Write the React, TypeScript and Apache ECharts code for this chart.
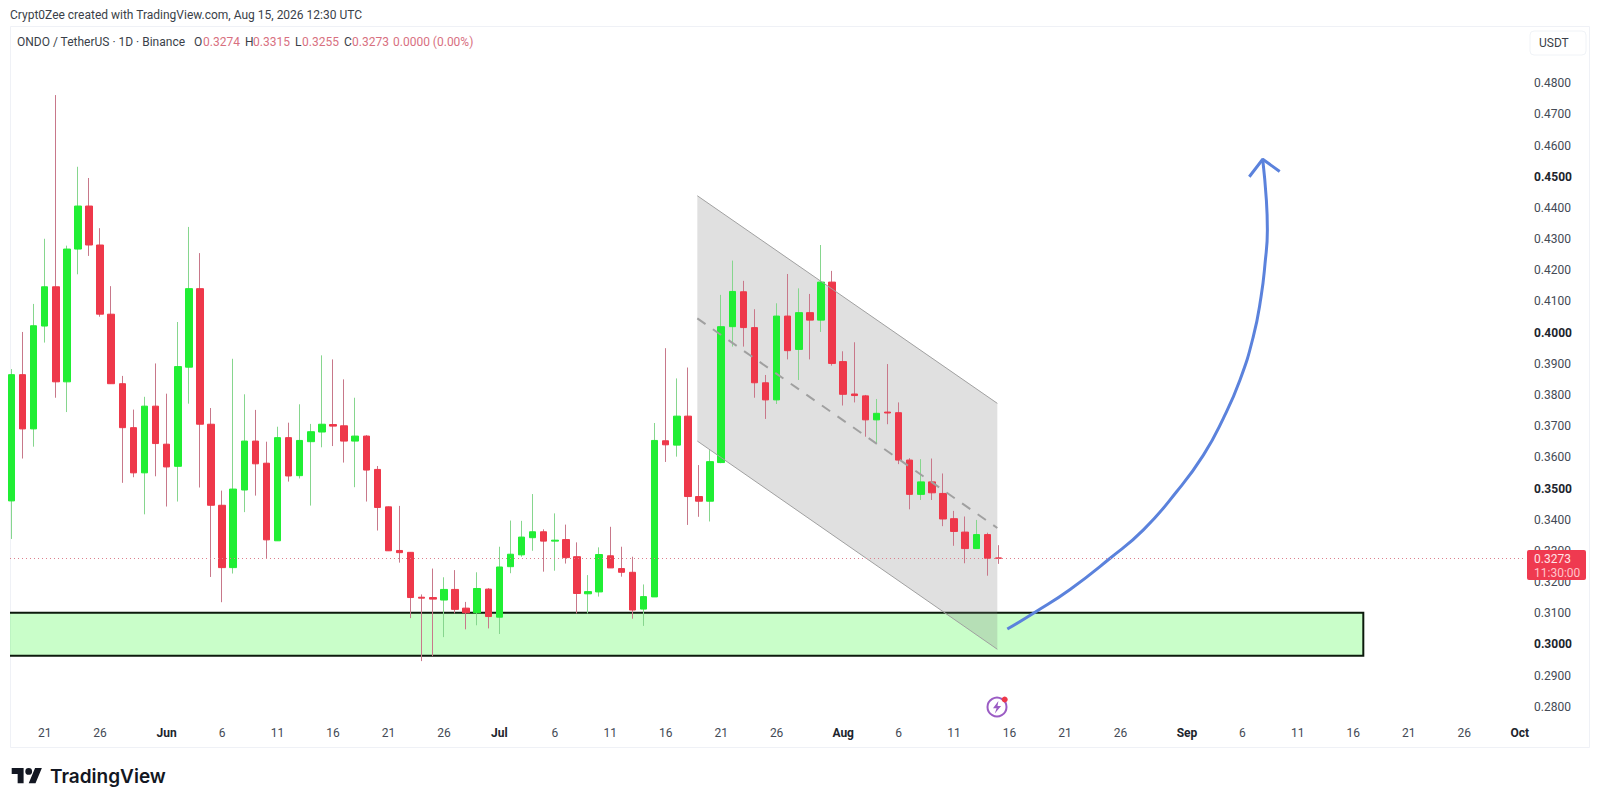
import React, { useEffect, useRef } from "react";
import * as echarts from "echarts";

// Daily candles, day 0 = May 18
const opens = [
  .3457,.3862,.3688,.4018,.4144,.3839,.4265,.4403,.4278,.4056,
  .3833,.3692,.3547,.3761,.3639,.3568,.3886,.4138,.3703,.3443,
  .3243,.3492,.3649,.3578,.3329,.3660,.3538,.3647,.3678,.3702,
  .3698,.3649,.3665,.3558,.3438,.3298,.3292,.3148,.3147,.3139,
  .3173,.3113,.3098,.3174,.3084,.3246,.3284,.3339,.3358,.3328,
  .3333,.3278,.3159,.3165,.3281,.3240,.3228,.3110,.3149,.3650,
  .3636,.3729,.3471,.3456,.3580,.4016,.4128,.4013,.3836,.3781,
  .4050,.3943,.4061,.4037,.4159,.3904,.3800,.3794,.3717,.3742,
  .3740,.3588,.3478,.3518,.3481,.3400,.3357,.3304,.3349,.3274,
];
const closes = [
  .3862,.3688,.4019,.4144,.3839,.4265,.4403,.4278,.4056,.3833,
  .3692,.3547,.3761,.3641,.3566,.3888,.4138,.3703,.3443,.3243,
  .3495,.3649,.3576,.3332,.3660,.3537,.3651,.3679,.3703,.3697,
  .3649,.3665,.3556,.3436,.3297,.3291,.3147,.3145,.3142,.3173,
  .3109,.3098,.3176,.3086,.3245,.3286,.3341,.3358,.3328,.3331,
  .3275,.3160,.3166,.3285,.3242,.3228,.3107,.3150,.3651,.3637,
  .3729,.3471,.3456,.3583,.4016,.4129,.4013,.3836,.3781,.4050,
  .3939,.4061,.4037,.4159,.3898,.3799,.3795,.3717,.3738,.3739,
  .3588,.3478,.3518,.3483,.3399,.3359,.3304,.3349,.3273,.3273,
];
const lows = [
  .3335,.3593,.3631,.3965,.3788,.3742,.4184,.4243,.4048,.3833,
  .3515,.3533,.3414,.3536,.3439,.3455,.3769,.3500,.3213,.3132,
  .3224,.3421,.3474,.3273,.3329,.3519,.3529,.3442,.3629,.3633,
  .3580,.3501,.3455,.3362,.3297,.3259,.3081,.2943,.2959,.3020,
  .3096,.3045,.3058,.3048,.3030,.3225,.3278,.3297,.3230,.3233,
  .3256,.3096,.3096,.3150,.3242,.3214,.3079,.3056,.3149,.3582,
  .3599,.3380,.3406,.3391,.3578,.3952,.3952,.3788,.3720,.3768,
  .3911,.3845,.3911,.3999,.3891,.3763,.3773,.3663,.3642,.3703,
  .3575,.3430,.3460,.3460,.3376,.3313,.3257,.3304,.3217,.3255,
];
const highs = [
  .3880,.3999,.4089,.4298,.4759,.4276,.4529,.4493,.4332,.4146,
  .3858,.3750,.3791,.3898,.3801,.4031,.4336,.4252,.3755,.3490,
  .3913,.3799,.3749,.3647,.3695,.3708,.3767,.3704,.3924,.3911,
  .3847,.3788,.3668,.3569,.3439,.3441,.3292,.3157,.3240,.3212,
  .3235,.3133,.3228,.3177,.3310,.3394,.3393,.3479,.3366,.3417,
  .3381,.3324,.3219,.3308,.3374,.3310,.3278,.3189,.3707,.3947,
  .3850,.3885,.3572,.3620,.4118,.4228,.4163,.4072,.3861,.4091,
  .4185,.4139,.4121,.4278,.4195,.3937,.3966,.3797,.3784,.3896,
  .3773,.3594,.3591,.3593,.3545,.3425,.3407,.3396,.3355,.3315,
];

const lastPrice = 0.3273;

const yTicks = [.28,.29,.30,.31,.32,.33,.34,.35,.36,.37,.38,.39,.40,.41,.42,.43,.44,.45,.46,.47,.48];
const yTicksBold = ["0.3000","0.3500","0.4000","0.4500"];

const xTickDays = [3,8,14,19,24,29,34,39,44,49,54,59,64,69,75,80,85,90,95,100,106,111,116,121,126,131,136];
const xTickLabels = ["21","26","Jun","6","11","16","21","26","Jul","6","11","16","21","26","Aug","6","11","16","21","26","Sep","6","11","16","21","26","Oct"];
const xTickBold = ["Jun","Jul","Aug","Sep","Oct"];

// Drawings, in day / price units
const zoneDays = [-5, 121.9];
const zonePrices = [0.3098, 0.2960];
const channelDays = [61.85, 88.9];
const channelTop = [0.4436, 0.3770];
const channelBottom = [0.3649, 0.2981];
const channelMid = [0.40425, 0.3370];
const arrowDays = [89.8,92.3,95.46,99.07,102.07,105.08,107.48,109.28,110.78,111.98,112.68,113.04,113.25,113.16,112.83];
const arrowPrices = [.3046,.3100,.3173,.3273,.3364,.3487,.3604,.3722,.3845,.3984,.4112,.4219,.4326,.4422,.4553];
const headDays = [111.62,112.83,114.36];
const headPrices = [.4497,.4553,.4514];

const GREEN = "#20ee34";
const RED = "#ee384a";
const GREEN_WICK = "#86d68e";
const RED_WICK = "#c8788a";
const GREY_LINE = "#a0a0a0";
const BLUE = "#5b82dc";
const TXT = "#444a55";
const FONT = 'Roboto, sans-serif';

const TV_PATH = "M14 22H7V11H0V4h14v18zM28 22h-8l7.5-18h8L28 22zM16 8a4 4 0 1 0 8 0a4 4 0 1 0-8 0z";
const BOLT_PATH = "M6 0L0 8h4L2 14l7-8.5H5L6 0z";
echarts.graphic.registerShape("tvlogo", echarts.graphic.extendPath(TV_PATH as any, {}) as any);
echarts.graphic.registerShape("bolt", echarts.graphic.extendPath(BOLT_PATH as any, {}) as any);

const label = (x: number, y: number, text: string, fill: string, font = "12px " + FONT) => ({
  type: "text",
  x,
  y,
  z: 60,
  style: { text, fill, font, textVerticalAlign: "middle" },
});

export default function App() {
  const ref = useRef<HTMLDivElement>(null);
  useEffect(() => {
    const chart = echarts.init(ref.current!, null, { renderer: "svg" });
    const wickData = opens.map((o, i) => [i, o, closes[i], lows[i], highs[i]]);
    const bodyData = opens.map((o, i) => [i, o, closes[i], Math.min(o, closes[i]), Math.max(o, closes[i])]);
    const pale = "#d8707f";
    chart.setOption({
      animation: false,
      backgroundColor: "#ffffff",
      grid: { left: 10, top: 27, width: 1516, height: 695, show: false },
      xAxis: {
        type: "value",
        min: -0.126,
        max: 136.57,
        splitLine: { show: false },
        axisLine: { show: false },
        axisTick: { show: false },
        axisLabel: {
          customValues: xTickDays,
          margin: 5,
          showMinLabel: true,
          showMaxLabel: true,
          hideOverlap: false,
          color: TXT,
          fontFamily: FONT,
          fontSize: 12,
          formatter: (v: number) => {
            const t = xTickLabels[xTickDays.indexOf(v)] ?? "";
            return xTickBold.includes(t) ? `{b|${t}}` : t;
          },
          rich: { b: { fontFamily: FONT, fontSize: 12, fontWeight: "bold", color: "#20242c" } },
        },
      },
      yAxis: {
        type: "value",
        position: "right",
        min: 0.27477,
        max: 0.49774,
        splitLine: { show: false },
        axisLine: { show: false },
        axisTick: { show: false },
        axisLabel: {
          customValues: yTicks,
          margin: 8,
          padding: [2, 0, 0, 0],
          color: TXT,
          fontFamily: FONT,
          fontSize: 12,
          formatter: (v: number) => {
            const t = v.toFixed(4);
            return yTicksBold.includes(t) ? `{b|${t}}` : t;
          },
          rich: { b: { fontFamily: FONT, fontSize: 12, fontWeight: "bold", color: "#20242c" } },
        },
      },
      series: [
        {
          type: "custom",
          name: "Support zone",
          clip: true,
          encode: { x: [0, 1], y: [2, 3] },
          data: [[zoneDays[0], zoneDays[1], zonePrices[0], zonePrices[1]]],
          renderItem: (_p: any, api: any) => {
            const a = api.coord([api.value(0), api.value(2)]);
            const b = api.coord([api.value(1), api.value(3)]);
            return {
              type: "rect",
              shape: { x: a[0], y: a[1], width: b[0] - a[0], height: b[1] - a[1] },
              style: { fill: "rgba(70,250,70,0.29)", stroke: "#0c1a0c", lineWidth: 2 },
            };
          },
        },
        {
          type: "custom",
          name: "Channel",
          clip: true,
          encode: { x: [0, 1], y: [2, 3, 4, 5] },
          data: [[channelDays[0], channelDays[1], channelTop[0], channelTop[1], channelBottom[0], channelBottom[1]]],
          renderItem: (_p: any, api: any) => ({
            type: "polygon",
            shape: {
              points: [
                api.coord([api.value(0), api.value(2)]),
                api.coord([api.value(1), api.value(3)]),
                api.coord([api.value(1), api.value(5)]),
                api.coord([api.value(0), api.value(4)]),
              ],
            },
            style: { fill: "rgba(120,120,120,0.23)" },
          }),
        },
        ...[channelTop, channelBottom].map((prices) => ({
          type: "line",
          symbol: "none",
          data: channelDays.map((d, i) => [d, prices[i]]),
          lineStyle: { color: GREY_LINE, width: 1 },
        })),
        {
          type: "line",
          symbol: "none",
          data: channelDays.map((d, i) => [d, channelMid[i]]),
          lineStyle: { color: GREY_LINE, width: 2, type: [10, 9] },
        },
        {
          type: "candlestick",
          name: "Wicks",
          barWidth: 1,
          data: wickData,
          itemStyle: { color: GREEN_WICK, color0: RED_WICK, borderColor: GREEN_WICK, borderColor0: RED_WICK, borderWidth: 1 },
        },
        {
          type: "candlestick",
          name: "ONDO / TetherUS",
          barWidth: 7,
          data: bodyData,
          itemStyle: { color: GREEN, color0: RED, borderColor: GREEN, borderColor0: RED, borderWidth: 1 },
          markLine: {
            silent: true,
            symbol: "none",
            precision: 4,
            label: { show: false },
            lineStyle: { color: "#dc7f8c", type: [1, 3], width: 1 },
            data: [{ yAxis: lastPrice }],
          },
        },
        {
          type: "line",
          symbol: "none",
          smooth: true,
          data: arrowDays.map((d, i) => [d, arrowPrices[i]]),
          lineStyle: { color: BLUE, width: 3 },
        },
        {
          type: "line",
          symbol: "none",
          data: headDays.map((d, i) => [d, headPrices[i]]),
          lineStyle: { color: BLUE, width: 3 },
        },
      ],
      graphic: {
        elements: [
          { type: "rect", z: 1, shape: { x: 10.5, y: 26.5, width: 1579, height: 721 }, style: { fill: "none", stroke: "#eff1f6", lineWidth: 1 } },
          label(10, 15, "Crypt0Zee created with TradingView.com, Aug 15, 2026 12:30 UTC", "#3a3f49"),
          label(17, 42, "ONDO / TetherUS · 1D · Binance", "#3a3f49"),
          label(194, 42, "O", "#3a3f49"), label(203, 42, "0.3274", pale),
          label(245, 42, "H", "#3a3f49"), label(253, 42, "0.3315", pale),
          label(295, 42, "L", "#3a3f49"), label(302, 42, "0.3255", pale),
          label(344, 42, "C", "#3a3f49"), label(352, 42, "0.3273", pale),
          label(393, 42, "0.0000 (0.00%)", pale),
          { type: "rect", z: 60, shape: { x: 1530, y: 31, width: 56, height: 24, r: 4 }, style: { fill: "#ffffff", stroke: "#f0f3f7", lineWidth: 1 } },
          label(1539, 43, "USDT", "#3a3f49"),
          { type: "rect", z: 60, shape: { x: 1527, y: 550, width: 59, height: 30, r: 2 }, style: { fill: "#ef3a50" } },
          label(1534, 558.5, "0.3273", "#ffe3e6"),
          label(1534, 573, "11:30:00", "#ffc4ca"),
          { type: "circle", z: 60, shape: { cx: 997, cy: 707, r: 9.5 }, style: { fill: "none", stroke: "#9b5cc4", lineWidth: 2 } },
          { type: "bolt", z: 60, x: 993, y: 701, scaleX: 0.9, scaleY: 0.9, style: { fill: "#9b5cc4" } },
          { type: "circle", z: 61, shape: { cx: 1004.7, cy: 699.5, r: 3 }, style: { fill: "#ee384a" } },
          { type: "tvlogo", z: 60, x: 11.7, y: 764.6, scaleX: 0.85, scaleY: 0.85, style: { fill: "#131722" } },
          { type: "text", z: 60, x: 50, y: 776, style: { text: "TradingView", fill: "#131722", font: '600 19px Inter, sans-serif', textVerticalAlign: "middle" } },
        ],
      },
    });
    return () => chart.dispose();
  }, []);
  return <div ref={ref} style={{ position: "absolute", left: 0, top: 0, width: 1600, height: 807 }} />;
}
